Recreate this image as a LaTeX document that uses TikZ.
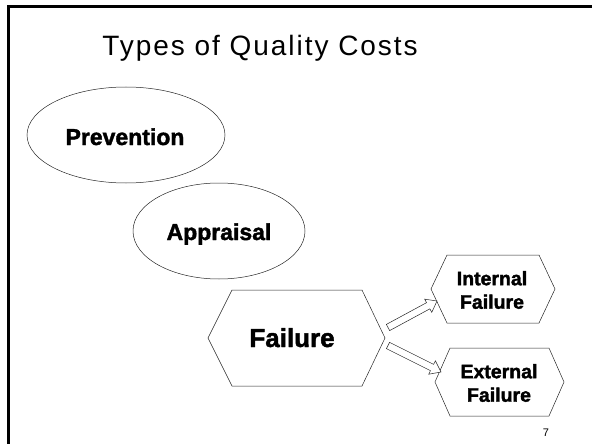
\documentclass[tikz,border=0pt]{standalone}
\usepackage{fontspec}
\setmainfont{Liberation Sans}[BoldFeatures={FakeBold=1.8}]
\newfontfamily\titlefont[LetterSpace=7]{Liberation Sans}
\usetikzlibrary{shapes.geometric,calc}
\tikzset{
  outline/.style={draw=black!85, line width=0.5pt},
  ovalbox/.style={outline, ellipse, inner sep=0pt},
  lbl/.style={font=\bfseries\fontsize{23}{27}\selectfont, inner sep=0pt},
  biglbl/.style={font=\bfseries\fontsize{26}{30}\selectfont, inner sep=0pt},
  smalllbl/.style={font=\bfseries\fontsize{19.5}{23.5}\selectfont, inner sep=0pt, align=center},
  hollowarr/.style={draw=black!85, line width=0.5pt, fill=white, line join=miter},
}
\newcommand\hollowarrow[2]{%
  \coordinate (ha-h) at ($(#2)!10pt!(#1)$);
  \draw[hollowarr] ($(#1)!3.5pt!90:(#2)$) -- ($(ha-h)!3.5pt!90:(#2)$) -- ($(ha-h)!7.5pt!90:(#2)$) -- (#2)
    -- ($(ha-h)!7.5pt!-90:(#2)$) -- ($(ha-h)!3.5pt!-90:(#2)$) -- ($(#1)!3.5pt!-90:(#2)$) -- cycle;
}
\begin{document}
\begin{tikzpicture}[x=1pt, y=-1pt]
\useasboundingbox (0,0) rectangle (592,444);
% frame
\draw[line width=3pt] (8.5,444) -- (8.5,6.5) -- (592,6.5);
% title
\node[font=\titlefont\fontsize{28}{32}\selectfont, anchor=base, inner sep=0pt] (title) at (260,56) {Types of Quality Costs};
% ellipses
\node[ovalbox, minimum width=198pt, minimum height=96pt] (prevE) at (126,135) {};
\node[lbl, anchor=base] (prev) at (125,145) {Prevention};
\node[ovalbox, minimum width=172pt, minimum height=96pt] (apprE) at (219,231) {};
\node[lbl, anchor=base] (appr) at (219,240) {Appraisal};
% failure hexagon
\draw[outline] (208,338) -- (232,290) -- (362,290) -- (385,338) -- (362,386) -- (232,386) -- cycle;
\node[biglbl, anchor=base] (fail) at (292,347) {Failure};
% internal
\draw[outline] (431,289) -- (447,255) -- (539,255) -- (555,289) -- (539,323) -- (447,323) -- cycle;
\node[smalllbl] (intf) at (492,290) {Internal\\Failure};
% external
\draw[outline] (435,382) -- (450,348) -- (549,348) -- (564,382) -- (549,416) -- (450,416) -- cycle;
\node[smalllbl] (extf) at (499,383) {External\\Failure};
% arrows
\coordinate (a1s) at (388,327.5);
\coordinate (a1e) at (437,301);
\coordinate (a2s) at (388,345.5);
\coordinate (a2e) at (441,372);
\hollowarrow{a1s}{a1e}
\hollowarrow{a2s}{a2e}
% page number
\node[font=\fontsize{11}{13}\selectfont, inner sep=0pt] (pnum) at (546,433) {7};
\end{tikzpicture}
\end{document}
